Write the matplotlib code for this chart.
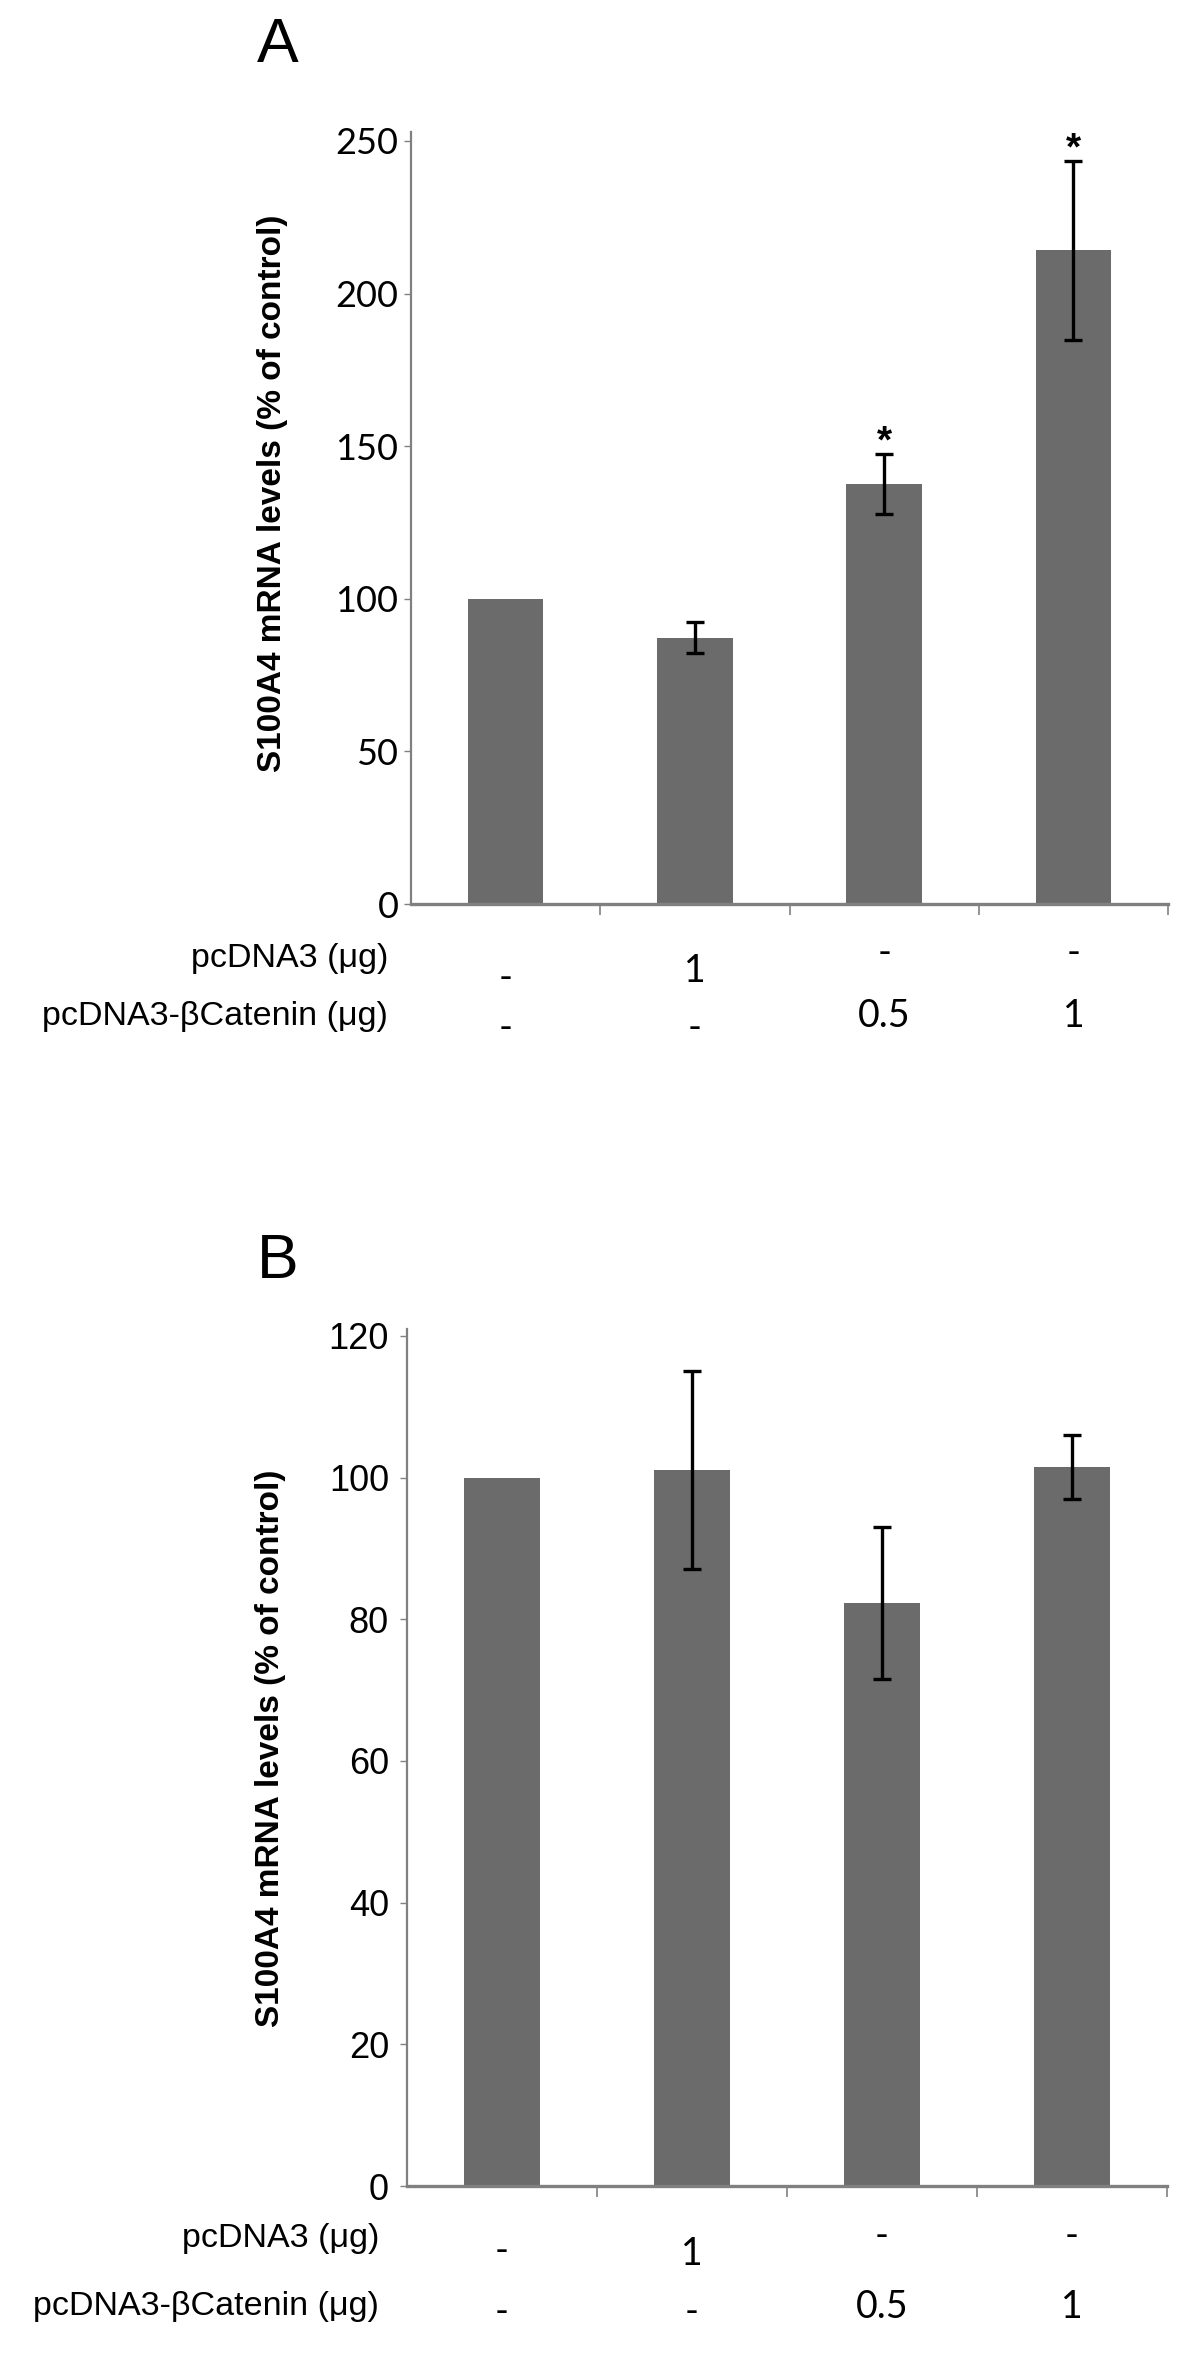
import numpy as np
import matplotlib
matplotlib.use('Agg')
import matplotlib.pyplot as plt
from matplotlib import transforms

# data
groups = ['control', 'pcDNA3 1', 'bCat 0.5', 'bCat 1']
pcdna3_row = ['-', '1', '-', '-']
bcat_row = ['-', '-', '0.5', '1']

a_means = [100, 87.3, 137.6, 214.2]
a_errs = [0, 5.1, 9.9, 29.4]
a_stars = ['', '', '*', '*']
a_yticks = [0, 50, 100, 150, 200, 250]

b_means = [100, 101.1, 82.3, 101.5]
b_errs = [0, 14.0, 10.7, 4.5]
b_yticks = [0, 20, 40, 60, 80, 100, 120]

row_names = ['pcDNA3 (\u03bcg)', 'pcDNA3-\u03b2Catenin (\u03bcg)']
ylabel = 'S100A4 mRNA levels (% of control)'

W, H = 1200, 2379
BAR = '#6b6b6b'
AXC = '#808080'

fig = plt.figure(figsize=(W / 100, H / 100), dpi=100)


def fy(px):
	return 1 - px / H


def panel(left, right, y0, px_per_unit, ymax, means, errs, yticks, tick_font, pad):
	ytop = y0 - ymax * px_per_unit
	ax = fig.add_axes([left / W, fy(y0), (right - left) / W, (y0 - ytop) / H])
	x = np.arange(len(means)) + 0.5
	ax.bar(x, means, width=0.4, color=BAR, zorder=2)
	for xi, m, e in zip(x, means, errs):
		if e > 0:
			ax.errorbar(xi, m, yerr=e, fmt='none', ecolor='black',
				elinewidth=2.4, capsize=6.5, capthick=2.4, zorder=3)
	ax.set_xlim(0, len(means))
	ax.set_ylim(0, ymax)
	ax.spines['top'].set_visible(False)
	ax.spines['right'].set_visible(False)
	ax.spines['left'].set_color(AXC)
	ax.spines['left'].set_linewidth(1.6)
	ax.spines['bottom'].set_color(AXC)
	ax.spines['bottom'].set_linewidth(2.4)
	ax.set_xticks([1, 2, 3, 4])
	ax.set_xticklabels([])
	ax.tick_params(axis='x', direction='out', length=8, width=1.2, color=AXC)
	ax.set_yticks(yticks)
	ax.set_yticklabels([str(t) for t in yticks], fontsize=26, family=tick_font)
	ax.tick_params(axis='y', direction='out', length=5, width=1.0, color=AXC, pad=pad)
	return ax, x


def under_labels(ax, x, right_px, name_ypx, row1_ypx, row2_ypx):
	trans = transforms.blended_transform_factory(ax.transData, fig.transFigure)
	for name, ypx in zip(row_names, name_ypx):
		fig.text(right_px / W, fy(ypx), name, ha='right', va='center',
			fontsize=24.5, family='Liberation Sans')
	for xi, lab, ypx in zip(x, pcdna3_row, row1_ypx):
		ax.text(xi, fy(ypx), lab, transform=trans, ha='center', va='center',
			fontsize=27, family='Lato')
	for xi, lab, ypx in zip(x, bcat_row, row2_ypx):
		ax.text(xi, fy(ypx), lab, transform=trans, ha='center', va='center',
			fontsize=27, family='Lato')


# Panel A
axA, xA = panel(411, 1168, 904, 763 / 250, 253, a_means, a_errs, a_yticks, 'Lato', 4)
for xi, m, e, s in zip(xA, a_means, a_errs, a_stars):
	if s:
		axA.annotate(s, (xi, m + e), xytext=(0, 1), textcoords='offset points',
			ha='center', va='baseline', fontsize=28, fontweight='bold',
			family='Liberation Sans')
under_labels(axA, xA, 388, [959, 1016], [978, 971, 953, 953], [1028, 1028, 1016, 1016])
fig.text(273 / W, fy(493), ylabel, rotation=90, ha='center', va='center',
	fontsize=24, fontweight='bold', family='Liberation Sans')
fig.text(278 / W, fy(46), 'A', ha='center', va='center', fontsize=45,
	family='Liberation Sans')

# Panel B
axB, xB = panel(407, 1167, 2186, 850 / 120, 121, b_means, b_errs, b_yticks, 'Liberation Sans', 8)
under_labels(axB, xB, 379, [2238, 2307], [2251, 2254, 2236, 2236], [2312, 2312, 2307, 2307])
fig.text(270 / W, fy(1748), ylabel, rotation=90, ha='center', va='center',
	fontsize=24, fontweight='bold', family='Liberation Sans')
fig.text(278 / W, fy(1261), 'B', ha='center', va='center', fontsize=45,
	family='Liberation Sans')

fig.savefig('out.png', dpi=100)
